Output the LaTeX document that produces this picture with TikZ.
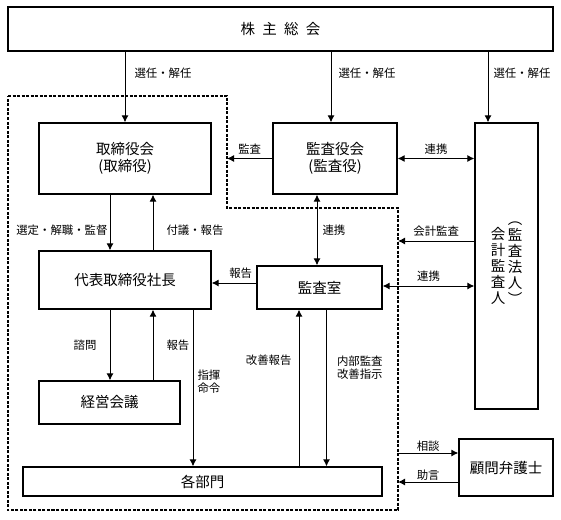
\documentclass[tikz,border=0pt]{standalone}
\usepackage{fontspec}
\setmainfont{Noto Sans CJK JP}
\usetikzlibrary{arrows.meta}

\begin{document}
\begin{tikzpicture}[x=1pt,y=-1pt,line width=1pt,
    >={Latex[length=7pt,width=7pt]},
    box/.style={draw=black,line width=1.3pt,inner sep=0pt,align=center,font=\fontsize{14.5}{17}\selectfont},
    lbl/.style={inner sep=1pt,align=left,font=\fontsize{11.4}{13.5}\selectfont},
    vtext/.style={inner sep=0pt,align=center,font=\fontsize{14.5}{16}\selectfont}]

    \useasboundingbox (0,0) rectangle (561,519);

    % dashed area
    \coordinate (dA) at (8,96);
    \coordinate (dB) at (227,96);
    \coordinate (dC) at (227,208);
    \coordinate (dD) at (398,208);
    \coordinate (dE) at (398,510);
    \coordinate (dF) at (8,510);
    \draw[line width=1.3pt,dash pattern=on 3pt off 1.5pt] (dA) -- (dB) -- (dC) -- (dD) -- (dE) -- (dF) -- cycle;

    \node[box,minimum width=545,minimum height=44] (soukai) at (280.5,29) {株\hspace{0.5em}主\hspace{0.5em}総\hspace{0.5em}会};
    \node[box,minimum width=172,minimum height=71] (torishimari) at (125,158.5) {取締役会\\(取締役)};
    \node[box,minimum width=124,minimum height=71] (kansayaku) at (335,158.5) {監査役会\\(監査役)};
    \node[box,minimum width=63,minimum height=286] (kaikei) at (506.5,266) {};
    \node[vtext] (kaikeiA) at ([xshift=-8.5pt]kaikei.center) {会\\計\\監\\査\\人};
    \node[vtext] (kaikeiB) at ([xshift=8.5pt,yshift=3pt]kaikei.center) {︵\\監\\査\\法\\人\\︶};
    \node[box,minimum width=172,minimum height=58] (shacho) at (125,280) {代表取締役社長};
    \node[box,minimum width=125,minimum height=43] (kansashitsu) at (319.5,287.5) {監査室};
    \node[box,minimum width=141,minimum height=43] (keiei) at (109.5,402.5) {経営会議};
    \node[box,minimum width=359,minimum height=29] (bumon) at (202.5,481.5) {各部門};
    \node[box,minimum width=94,minimum height=57] (bengoshi) at (506,467.5) {顧問弁護士};

    % 株主総会
    \path[->] (soukai.south -| torishimari.north) edge node[lbl,pos=0.3,right=8pt] {選任・解任} (torishimari.north);
    \path[->] ([xshift=-4pt]kansayaku.north |- soukai.south) edge node[lbl,pos=0.3,right=6pt] {選任・解任} ([xshift=-4pt]kansayaku.north);
    \path[->] ([xshift=-18.5pt]kaikei.north |- soukai.south) edge node[lbl,pos=0.3,right=4pt] {選任・解任} ([xshift=-18.5pt]kaikei.north);

    % 監査役会
    \path[->] (kansayaku.west) edge node[lbl,above=3pt] {監査} (kansayaku.west -| dC);
    \path[<->] (kansayaku.east) edge node[lbl,above=3pt] {連携} (kaikei.west |- kansayaku.east);
    \path[<->] ([xshift=-2.5pt]kansashitsu.north |- kansayaku.south) edge node[lbl,right=4pt] {連携} ([xshift=-2.5pt]kansashitsu.north);

    % 取締役会と社長
    \path[->] ([xshift=-15pt]torishimari.south) edge node[lbl,left=1pt,pos=0.63] {選定・解職・監督} ([xshift=-15pt]torishimari.south |- shacho.north);
    \path[->] ([xshift=28pt]shacho.north) edge node[lbl,right=12pt,pos=0.37] {付議・報告} ([xshift=28pt]shacho.north |- torishimari.south);

    % 会計監査人
    \path[->] ([yshift=25pt]kaikei.west) edge node[lbl,above=3pt] {会計監査} ([yshift=25pt]kaikei.west -| dE);
    \path[<->] ([yshift=1.5pt]kansashitsu.east) edge node[lbl,above=3pt] {連携} ([yshift=1.5pt]kansashitsu.east -| kaikei.west);

    % 監査室
    \path[->] ([yshift=4.5pt]kansashitsu.west) edge node[lbl,above=3pt,pos=0.35] {報告} ([yshift=4.5pt]kansashitsu.west -| shacho.east);
    \path[->] ([xshift=-20.5pt]kansashitsu.south |- bumon.north) edge node[lbl,left=6pt,pos=0.68] {改善報告} ([xshift=-20.5pt]kansashitsu.south);
    \path[->] ([xshift=7pt]kansashitsu.south) edge node[lbl,right=9pt,pos=0.37] {内部監査\\改善指示} ([xshift=7pt]kansashitsu.south |- bumon.north);

    % 社長から下
    \path[->] ([xshift=-15pt]shacho.south) edge node[lbl,left=12pt] {諮問} ([xshift=-15pt]shacho.south |- keiei.north);
    \path[->] ([xshift=28pt]shacho.south |- keiei.north) edge node[lbl,right=12pt] {報告} ([xshift=28pt]shacho.south);
    \path[->] ([xshift=68pt]shacho.south) edge node[lbl,right=3pt,pos=0.46] {指揮\\命令} ([xshift=68pt]shacho.south |- bumon.north);

    % 顧問弁護士
    \path[->] ([yshift=14.5pt]bengoshi.west -| dE) edge node[lbl,above=0pt] {相談} ([yshift=14.5pt]bengoshi.west);
    \path[->] ([yshift=-14.5pt]bengoshi.west) edge node[lbl,above=0pt] {助言} ([yshift=-14.5pt]bengoshi.west -| dE);
\end{tikzpicture}
\end{document}
